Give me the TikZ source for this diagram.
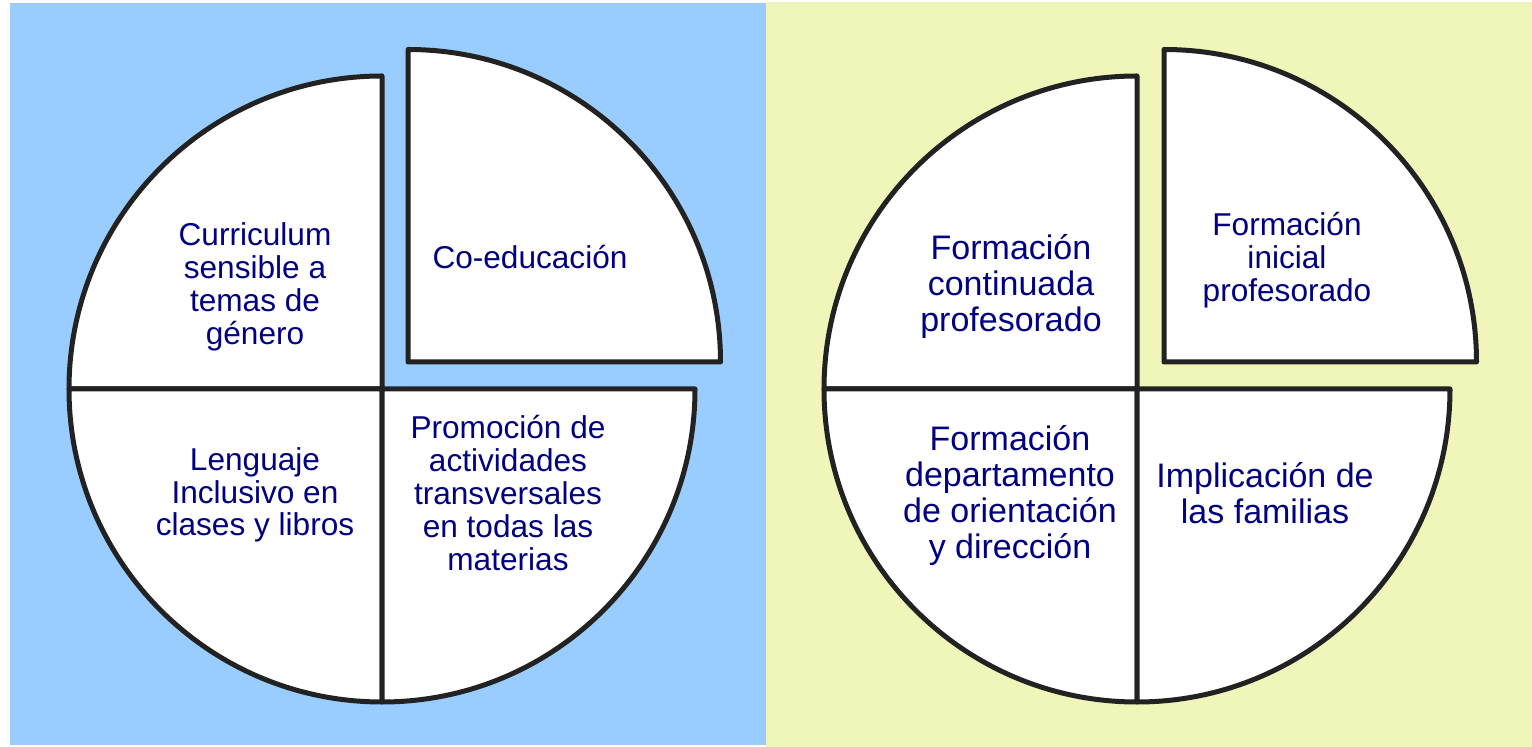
\documentclass[tikz,border=0pt]{standalone}
\usepackage{fontspec}
\setmainfont{Liberation Sans}
\usetikzlibrary{calc}
\definecolor{leftbg}{RGB}{153,204,255}
\definecolor{rightbg}{RGB}{240,245,185}
\definecolor{navy}{RGB}{0,0,128}
\definecolor{rim}{RGB}{34,34,34}

\begin{document}
\begin{tikzpicture}[x=1pt,y=1pt,
	quarter/.style={draw=rim, line width=5pt, line join=round, fill=white},
	small/.style={text=navy, align=center, inner sep=0pt, font=\fontsize{31.6}{32.8}\selectfont},
	big/.style={small, font=\fontsize{34}{36}\selectfont}]
	\useasboundingbox (0,0) rectangle (1532,747);
	\fill[rightbg] (766,0) rectangle (1532,745);
	\fill[leftbg] (10,2) rectangle (766,744);
	% left pie
	\coordinate (l) at (382,358);
	\coordinate (lx) at (408,385);
	\draw[quarter] (l) -- ++(0,313) arc[start angle=90, end angle=180, radius=313] -- cycle;
	\draw[quarter] (l) -- ++(-313,0) arc[start angle=180, end angle=270, radius=313] -- cycle;
	\draw[quarter] (l) -- ++(0,-313) arc[start angle=270, end angle=360, radius=313] -- cycle;
	\draw[quarter] (lx) -- ++(312.5,0) arc[start angle=0, end angle=90, radius=312.5] -- cycle;
	% right pie
	\coordinate (r) at (1137,358);
	\coordinate (rx) at (1164,385);
	\draw[quarter] (r) -- ++(0,313) arc[start angle=90, end angle=180, radius=313] -- cycle;
	\draw[quarter] (r) -- ++(-313,0) arc[start angle=180, end angle=270, radius=313] -- cycle;
	\draw[quarter] (r) -- ++(0,-313) arc[start angle=270, end angle=360, radius=313] -- cycle;
	\draw[quarter] (rx) -- ++(312.5,0) arc[start angle=0, end angle=90, radius=312.5] -- cycle;
	% texts
	\node[small] (curr) at (255,460) {Curriculum\\sensible a\\temas de\\género};
	\node[small] (coed) at (530,490) {Co-educación};
	\node[small] (leng) at (255,252) {Lenguaje\\Inclusivo en\\clases y libros};
	\node[small] (prom) at (508,254) {Promoción de\\actividades\\transversales\\en todas las\\materias};
	\node[big] (cont) at (1011,460) {Formación\\continuada\\profesorado};
	\node[small] (inic) at (1287,487) {Formación\\inicial\\profesorado};
	\node[big] (dept) at (1010,251) {Formación\\departamento\\de orientación\\y dirección};
	\node[big] (fam) at (1265,254) {Implicación de\\las familias};
\end{tikzpicture}
\end{document}
